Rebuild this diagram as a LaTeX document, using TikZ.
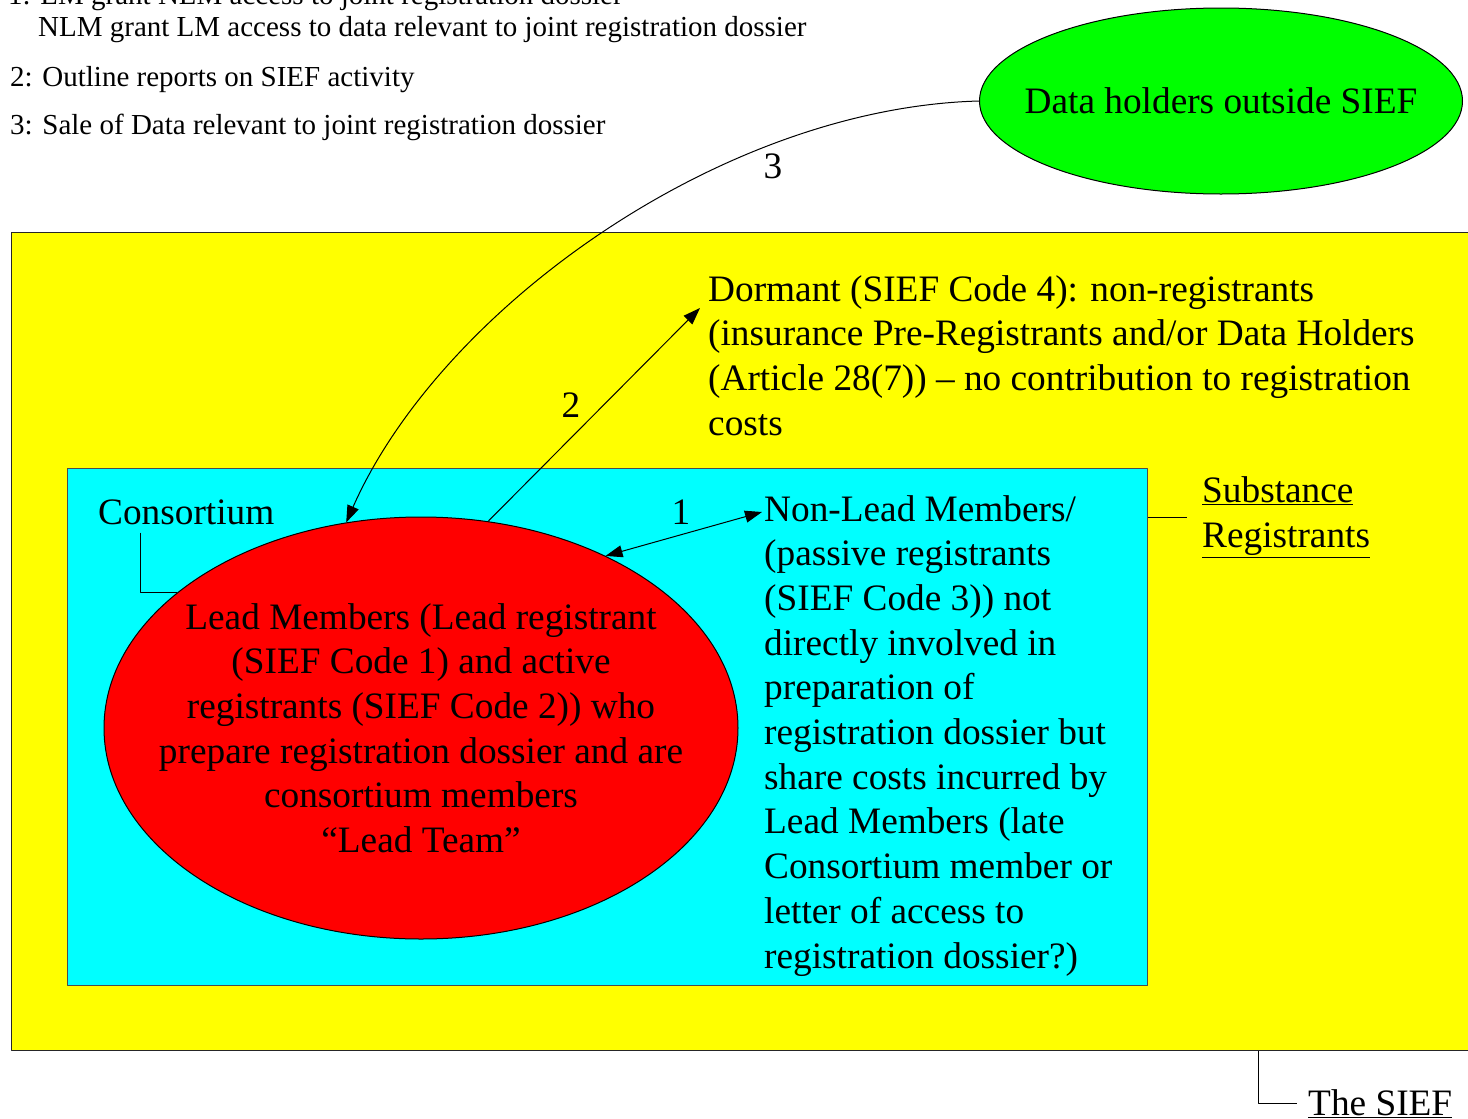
\documentclass[tikz,border=0pt]{standalone}
\usepackage{fontspec}
\setmainfont{Liberation Serif}
\usetikzlibrary{arrows.meta,calc,shapes.geometric}

\definecolor{siefyellow}{RGB}{255,255,0}
\definecolor{regcyan}{RGB}{0,255,255}
\definecolor{leadred}{RGB}{255,0,0}
\definecolor{holdgreen}{RGB}{0,255,0}

\tikzset{
  body/.style={font=\fontsize{37.3}{44.7}\selectfont,inner sep=0pt},
  note/.style={font=\fontsize{29}{34}\selectfont,inner sep=0pt,anchor=base west},
  link/.style={line width=1pt},
  tip/.style={-{Triangle[length=17pt,width=12pt]}},
  tips/.style={{Triangle[length=17pt,width=12pt]}-{Triangle[length=17pt,width=12pt]}},
}

\begin{document}
\begin{tikzpicture}[x=1pt,y=-1pt,line join=round]
  \useasboundingbox (0,0) rectangle (1468,1119);
  % key to the numbered arrows
  \node[note] (note1) at (8,4) {1: LM grant NLM access to joint registration dossier};
  \node[note] (note1b) at (38,36) {NLM grant LM access to data relevant to joint registration dossier};
  \node[note] (note2) at (10,86) {2: Outline reports on SIEF activity};
  \node[note] (note3) at (10,134) {3: Sale of Data relevant to joint registration dossier};
  % the SIEF, the registrants and the consortium
  \node[draw=black!85,fill=siefyellow,link,minimum width=1480pt,minimum height=818pt,anchor=north west] (sief) at (11,232) {};
  \node[draw=black!70,fill=regcyan,link,minimum width=1080pt,minimum height=517pt,anchor=north west] (reg) at (67,468) {};
  \node[ellipse,draw,fill=leadred,link,minimum width=634pt,minimum height=422pt] (lead) at (421,728) {};
  \node[ellipse,draw,fill=holdgreen,link,minimum width=483pt,minimum height=186pt] (holders) at (1221,101) {};
  % texts
  \node[body,align=center] (leadtxt) at (lead) {Lead Members (Lead registrant\\(SIEF Code 1) and active\\registrants (SIEF Code 2)) who\\prepare registration dossier and are\\consortium members\\“Lead Team”};
  \node[body] (holderstxt) at (holders) {Data holders outside SIEF};
  \node[body,align=left,anchor=north west] (dormant) at (708,275) {Dormant (SIEF Code 4): non-registrants\\(insurance Pre-Registrants and/or Data Holders\\(Article 28(7)) – no contribution to registration\\costs};
  \node[body,align=left,anchor=north west] (nonlead) at (764,495) {Non-Lead Members/\\(passive registrants\\(SIEF Code 3)) not\\directly involved in\\preparation of\\registration dossier but\\share costs incurred by\\Lead Members (late\\Consortium member or\\letter of access to\\registration dossier?)};
  \node[body,anchor=west] (cons) at (98,512) {Consortium};
  \node[body,align=left,anchor=west,inner xsep=15pt] (subst) at (1187,517) {\underline{Substance}\\\underline{Registrants}};
  \node[body,anchor=base west,inner xsep=11pt] (thesief) at (1297,1115) {\underline{The SIEF}};
  % callout lines
  \draw[link] ($(cons.south west)+(42,8)$) |- (lead.151.6);
  \draw[link] (reg.east |- subst.west) -- (subst.west);
  \draw[link] (sief.south -| 1258,0) |- (thesief.west);
  % numbered arrows
  \draw[link,tips] (lead.43.4) -- ($(nonlead.north west)+(-2,17)$);
  \draw[link,tip] (lead.72.9) -- ($(dormant.north west)+(-8,33)$);
  \draw[link,tip] (holders.west) .. controls (720,108) and (440,310) .. (lead.110.2);
  \node[body] (num1) at (681,512) {1};
  \node[body] (num2) at (571,405) {2};
  \node[body] (num3) at (773,166) {3};
\end{tikzpicture}
\end{document}
